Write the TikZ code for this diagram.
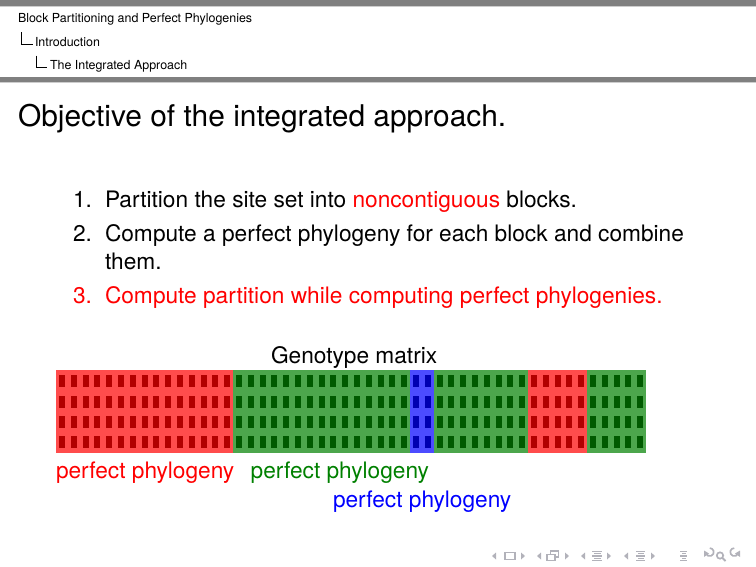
\documentclass[tikz,border=0pt]{standalone}
\usepackage{fontspec}
\setmainfont{TeX Gyre Heros}
\definecolor{mygreen}{RGB}{0,128,0}
\definecolor{barg}{RGB}{128,128,128}
\definecolor{barl}{RGB}{205,205,205}
\definecolor{navgray}{RGB}{178,178,186}
\newcommand\mtxblock[4]{%
  \fill[#3] ({56+11.8*#1},370) rectangle ({56+11.8*(#1+#2)},452.5);
  \foreach \i in {1,...,#2}{\foreach \j in {0,...,3}{%
    \fill[#4] ({56+11.8*(#1+\i-0.5)-3},{375.5+20.2*\j}) rectangle ({56+11.8*(#1+\i-0.5)+3},{387.5+20.2*\j});}}}
\begin{document}
\begin{tikzpicture}[x=0.48173pt,y=-0.48173pt,
  txt/.style={anchor=base west,inner sep=0pt,outer sep=0pt},
  hdr/.style={txt,font=\fontsize{6}{7}\selectfont},
  body/.style={txt,font=\fontsize{10.93}{13.6}\selectfont},
  ttl/.style={txt,font=\fontsize{14.4}{18}\selectfont},
  navline/.style={draw=navgray,line width=0.6pt},
  navfill/.style={fill=navgray}]
\useasboundingbox (0,0) rectangle (756,567);
% head bars
\fill[barg] (0,0) rectangle (756,6);
\fill[barl] (0,6) rectangle (756,7);
\fill[barg] (0,77) rectangle (756,82.5);
\fill[barl] (0,82.5) rectangle (756,83.5);
% headline
\node[hdr] (h1) at (18,23) {Block Partitioning and Perfect Phylogenies};
\node[hdr] (h2) at (35,47) {Introduction};
\node[hdr] (h3) at (50,70) {The Integrated Approach};
\draw[line width=0.4pt] (21.7,32.3) |- (32.7,44);
\draw[line width=0.4pt] (36.7,55.7) |- (46.7,67.3);
% title
\node[ttl] (title) at (18,127) {Objective of the integrated approach.};
% enumerate
\node[body,anchor=base east] (n1) at (92,207.5) {1.};
\node[body] (i1) at (105,207.5) {Partition the site set into \textcolor{red}{noncontiguous} blocks.};
\node[body,anchor=base east] (n2) at (92,241.5) {2.};
\node[body] (i2) at (105,241.5) {Compute a perfect phylogeny for each block and combine};
\node[body] (i2b) at (105,269.7) {them.};
\node[body,anchor=base east,text=red] (n3) at (92,304) {3.};
\node[body,text=red] (i3) at (105,304) {Compute partition while computing perfect phylogenies.};
% matrix
\node[body] (gm) at (271,363.5) {Genotype matrix};
\mtxblock{0}{15}{red!70}{red!70!black}
\mtxblock{15}{15}{mygreen!70}{mygreen!70!black}
\mtxblock{30}{2}{blue!70}{blue!70!black}
\mtxblock{32}{8}{mygreen!70}{mygreen!70!black}
\mtxblock{40}{5}{red!70}{red!70!black}
\mtxblock{45}{5}{mygreen!70}{mygreen!70!black}
\node[body,text=red] (lr) at (56,478) {perfect phylogeny};
\node[body,text=mygreen] (lg) at (250.7,478) {perfect phylogeny};
\node[body,text=blue] (lb) at (333,507) {perfect phylogeny};
% navigation symbols
\foreach \x in {494,539,583,626}{\fill[navfill] (\x+2,552.5) -- (\x+2,559.5) -- (\x-2,556) -- cycle;}
\foreach \x in {523,567,609,653}{\fill[navfill] (\x-2,552.5) -- (\x-2,559.5) -- (\x+2,556) -- cycle;}
\draw[navline] (505,552.5) rectangle (515,559.5);
\draw[navline] (550.5,551) rectangle (558.5,557);
\filldraw[navline,fill=white] (547,554.5) rectangle (555,560.5);
\foreach \x/\w in {592/10,636/9,680/7}{%
  \draw[navline] (\x,551.5) -- (\x+\w,551.5);
  \draw[navline] (\x+2,553.8) -- (\x+\w-1,553.8);
  \draw[navline] (\x,556.1) -- (\x+\w,556.1);
  \draw[navline] (\x+2,558.4) -- (\x+\w-1,558.4);
  \draw[navline] (\x,560.7) -- (\x+\w,560.7);}
\draw[navline,line width=0.8pt] (706,553.5) arc[start angle=160,end angle=-90,radius=4];
\fill[navfill] (704,550.5) -- (709,553.5) -- (704,557) -- cycle;
\draw[navline,line width=0.8pt] (720,555.5) circle[radius=3.2];
\draw[navline,line width=1pt] (722.3,557.8) -- (725.5,561);
\draw[navline,line width=0.8pt] (738,553.5) arc[start angle=20,end angle=270,radius=4];
\fill[navfill] (740,550.5) -- (735,553.5) -- (740,557) -- cycle;
\end{tikzpicture}
\end{document}
